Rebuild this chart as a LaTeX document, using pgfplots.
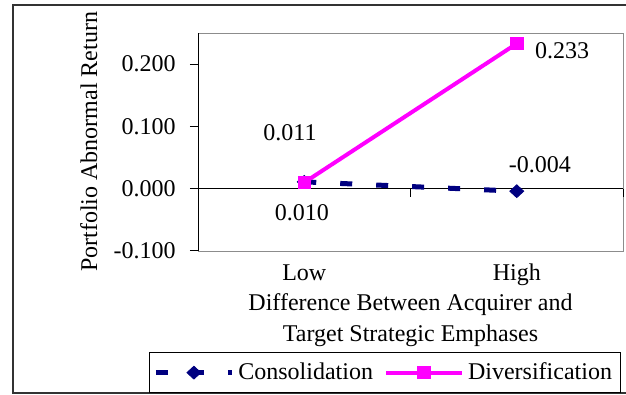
\documentclass[border=0pt]{standalone}
\usepackage{fontspec}
\setmainfont{Liberation Serif}
\usepackage{pgfplots}
\pgfplotsset{compat=1.18}
\definecolor{navy}{HTML}{000080}
\definecolor{mag}{HTML}{FF00FF}
\begin{document}
\fontsize{12}{15.5}\selectfont
\begin{tikzpicture}[x=1pt,y=1pt]
\path[use as bounding box] (0,0) rectangle (313,197.5);
\draw[black!80, line width=0.6pt] (6.5,1) rectangle (330,195);
\begin{axis}[
  at={(99pt,72pt)}, anchor=south west,
  scale only axis, width=212.5pt, height=109pt,
  xmin=-0.5, xmax=1.5, ymin=-0.1, ymax=0.25,
  clip=false,
  axis line style={draw=black!45},
  xtick={0,1}, xticklabels={Low,High},
  x tick style={draw=none},
  xticklabel style={anchor=base, yshift=-11pt},
  ytick={-0.1,0,0.1,0.2}, yticklabels={-0.100,0.000,0.100,0.200},
  ytick pos=left, tick align=outside, major tick length=4pt,
  y tick style={black, line width=0.5pt},
  yticklabel style={xshift=-3pt},
  xlabel={Difference Between Acquirer and\\Target Strategic Emphases},
  xlabel style={align=center, at={(axis description cs:0.5,-0.156)}, anchor=north},
  ylabel={Portfolio Abnormal Return},
  ylabel style={at={(axis description cs:-0.2376,0.5)}, anchor=base},
  legend columns=2,
  legend style={at={(axis description cs:-0.1153,-0.4633)}, anchor=north west, draw=black,
    inner xsep=2pt, inner ysep=3pt,
    /tikz/every even column/.append style={column sep=3.5pt}},
  legend image code/.code={\draw[mark repeat=2,mark phase=2,#1] plot coordinates {(0pt,0pt)(19pt,0pt)(38pt,0pt)};},
]
\draw[black, line width=0.5pt] (rel axis cs:0,0) -- (rel axis cs:0,1);
\draw[black, line width=0.5pt] (axis cs:-0.5,0) -- (axis cs:1.5,0);
\draw[black, line width=0.5pt] (axis cs:0.5,0) -- ++(0pt,-4pt);
\draw[black, line width=0.5pt] (axis cs:1.5,0) -- ++(0pt,-4pt);
\addplot[navy, line width=2.5pt, dash pattern=on 6pt off 12pt, mark=diamond*,
  mark options={solid, fill=navy, xscale=1.45, line width=0.4pt}, mark size=3.2pt]
  coordinates {(0,0.011) (1,-0.004)};
\addlegendentry{Consolidation}
\addplot[mag, line width=2pt, mark=square*,
  mark options={fill=mag, line width=0.4pt}, mark size=3.1pt]
  coordinates {(0,0.010) (1,0.233)};
\addlegendentry{Diversification}
\node[anchor=base] at (axis cs:-0.067,0.0774) {0.011};
\node[anchor=base] at (axis cs:-0.011,-0.0516) {0.010};
\node[anchor=base] at (axis cs:1.213,0.2097) {0.233};
\node[anchor=base] at (axis cs:1.109,0.0258) {-0.004};
\end{axis}
\end{tikzpicture}
\end{document}
